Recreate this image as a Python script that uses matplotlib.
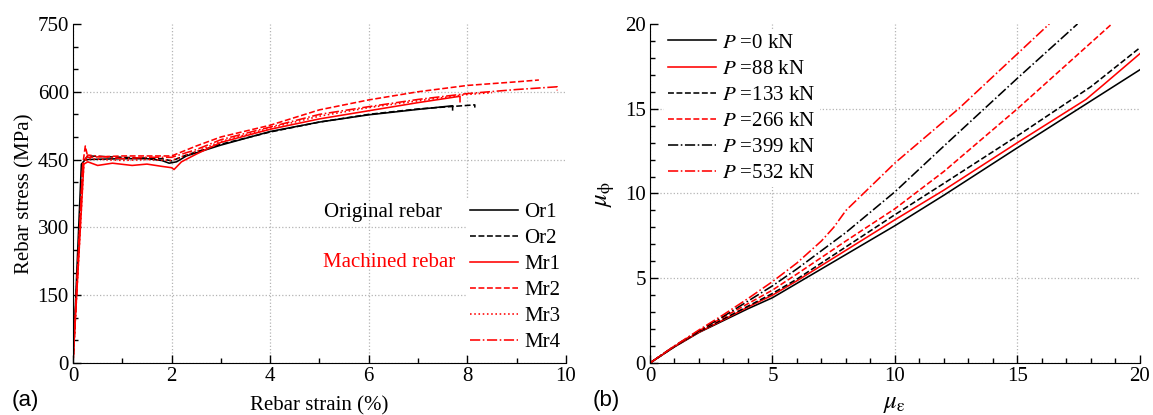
import numpy as np
import matplotlib
matplotlib.use("Agg")
from matplotlib import pyplot as plt

plt.rcParams['font.family'] = ['Liberation Serif', 'DejaVu Serif']
plt.rcParams['mathtext.fontset'] = 'stix'
plt.rcParams['font.size'] = 15

# (a) rebar stress-strain curves: strain (%) and stress (MPa)
or1_x = [0, 0.17, 0.25, 1.0, 1.5, 1.8, 1.95, 2.1, 2.3, 3, 4, 5, 6, 7, 7.7, 7.7]
or1_y = [0, 440, 450, 452, 452, 448, 442, 445, 458, 482, 512, 533, 549, 561, 569, 560]
or2_x = [0, 0.2, 0.3, 1.0, 1.8, 2.0, 2.3, 3, 4, 5, 6, 7, 8.15, 8.15]
or2_y = [0, 445, 458, 455, 452, 447, 460, 484, 511, 533, 550, 562, 571, 565]
mr1_x = [0, 0.22, 0.3, 0.5, 0.8, 1.2, 1.5, 1.8, 2.0, 2.05, 2.2, 2.5, 3, 4, 5, 6, 7, 7.85, 7.85]
mr1_y = [0, 440, 445, 437, 442, 437, 440, 435, 432, 428, 445, 462, 488, 517, 540, 558, 576, 590, 578]
mr2_x = [0, 0.2, 0.25, 0.3, 1.0, 1.5, 2.0, 2.5, 3, 4, 5, 6, 7, 8, 9, 9.45]
mr2_y = [0, 440, 480, 455, 458, 458, 458, 480, 500, 526, 560, 582, 600, 614, 622, 626]
mr3_x = [0, 0.22, 0.3, 1.0, 1.5, 2.0, 2.5, 3, 4, 5, 6, 7, 8, 8.5]
mr3_y = [0, 440, 452, 448, 450, 448, 468, 490, 520, 546, 565, 580, 594, 598]
mr4_x = [0, 0.2, 0.3, 1.0, 1.5, 2.0, 2.5, 3, 4, 5, 6, 7, 8, 9, 9.82, 9.82]
mr4_y = [0, 440, 460, 452, 455, 455, 472, 494, 522, 550, 567, 583, 596, 605, 611, 603]

# (b) curvature ductility vs strain ductility for axial loads P (kN)
loads = ['0', '88', '133', '266', '399', '532']
b_x = [
    [0, 1, 2, 3, 4, 5, 6, 8, 10, 12, 15, 17.5, 20],
    [0, 1, 2, 3, 4, 5, 6, 8, 10, 12, 15, 17.8, 18.5, 20],
    [0, 1, 2, 3, 4, 5, 6, 8, 10, 12, 15, 18, 20],
    [0, 1, 2, 3, 4, 5, 6, 8, 10, 12, 15, 18.85],
    [0, 1, 2, 3, 4, 5, 6, 8, 10, 12, 15, 17.45],
    [0, 1, 2, 3, 4, 5, 6, 7, 7.5, 8, 9, 10, 12.6, 16.3],
]
b_y = [
    [0, 0.95, 1.8, 2.5, 3.2, 3.85, 4.7, 6.4, 8.1, 9.9, 12.7, 15.0, 17.3],
    [0, 0.97, 1.82, 2.55, 3.3, 4.0, 4.85, 6.65, 8.45, 10.2, 13.0, 15.55, 16.4, 18.25],
    [0, 0.97, 1.85, 2.6, 3.35, 4.1, 4.95, 6.85, 8.75, 10.6, 13.4, 16.3, 18.6],
    [0, 1.0, 1.9, 2.7, 3.5, 4.3, 5.25, 7.2, 9.1, 11.3, 15.0, 20],
    [0, 1.0, 1.9, 2.75, 3.65, 4.55, 5.55, 7.7, 10.1, 12.8, 16.8, 20],
    [0, 1.0, 1.95, 2.85, 3.8, 4.8, 5.9, 7.2, 8.0, 9.0, 10.4, 11.8, 15.0, 20],
]
b_colors = ['black', 'red', 'black', 'red', 'black', 'red']
b_styles = ['-', '-', '--', '--', '-.', '-.']

fig = plt.figure(figsize=(11.53, 4.15), dpi=100)
ax1 = fig.add_axes([0.0633, 0.1253, 0.4276, 0.817])
ax2 = fig.add_axes([0.5637, 0.1253, 0.425, 0.817])

lw = 1.15
ax1.plot(or1_x, or1_y, color='black', ls='-', lw=lw, label='Or1')
ax1.plot(or2_x, or2_y, color='black', ls='--', lw=lw, label='Or2')
ax1.plot(mr1_x, mr1_y, color='red', ls='-', lw=lw, label='Mr1')
ax1.plot(mr2_x, mr2_y, color='red', ls='--', lw=lw, label='Mr2')
ax1.plot(mr3_x, mr3_y, color='red', ls=':', lw=lw, label='Mr3')
ax1.plot(mr4_x, mr4_y, color='red', ls='-.', lw=lw, label='Mr4')

for xs, ys, c, s, p in zip(b_x, b_y, b_colors, b_styles, loads):
    ax2.plot(xs, ys, color=c, ls=s, lw=lw, label=r'$P$ =' + p + ' kN')

ax1.set_xlim(0, 10)
ax1.set_ylim(0, 750)
ax1.set_xticks(np.arange(0, 11, 2))
ax1.set_yticks(np.arange(0, 751, 150))
ax1.set_xticks(np.arange(1, 10, 2), minor=True)
ax1.set_yticks(np.arange(50, 750, 50), minor=True)
ax1.set_xlabel('Rebar strain (%)', labelpad=7)
ax1.set_ylabel('Rebar stress (MPa)', labelpad=2)

ax2.set_xlim(0, 20)
ax2.set_ylim(0, 20)
ax2.set_xticks(np.arange(0, 21, 5))
ax2.set_yticks(np.arange(0, 21, 5))
ax2.set_xticks(np.arange(0, 21, 1), minor=True)
ax2.set_yticks(np.arange(0, 21, 1), minor=True)
ax2.set_xlabel(r'$\mu_{\mathrm{\varepsilon}}$', fontsize=18, labelpad=5)
ax2.set_ylabel(r'$\mu_{\mathrm{\phi}}$', fontsize=18, labelpad=6)

for ax in (ax1, ax2):
    ax.spines['top'].set_visible(False)
    ax.spines['right'].set_visible(False)
    ax.tick_params(which='major', direction='in', length=6, width=1, labelsize=15, pad=3)
    ax.tick_params(which='minor', direction='in', length=3.5, width=1)
    ax.grid(True, which='major', color='#b4b4b4', ls=':', lw=0.9)
    ax.get_xgridlines()[-1].set_visible(False)
    ax.get_ygridlines()[-1].set_visible(False)
    ax.set_axisbelow(True)

ax1.legend(loc='lower right', bbox_to_anchor=(0.997, 0.02), frameon=True,
           edgecolor='none', facecolor='white', framealpha=1,
           handlelength=2.3, handletextpad=0.3, labelspacing=0.31,
           borderpad=0.2, borderaxespad=0, fontsize=15)
ax1.text(0.509, 0.445, 'Original rebar', transform=ax1.transAxes, ha='left',
         va='center', fontsize=15, color='black')
ax1.text(0.507, 0.295, 'Machined rebar', transform=ax1.transAxes, ha='left',
         va='center', fontsize=15, color='red')

ax2.legend(loc='upper left', bbox_to_anchor=(0.029, 0.985), frameon=True,
           edgecolor='none', facecolor='white', framealpha=1,
           handlelength=2.3, handletextpad=0.3, labelspacing=0.31,
           borderpad=0.2, borderaxespad=0, fontsize=15)

fig.text(0.010, 0.022, '(a)', family='Liberation Sans', fontsize=16)
fig.text(0.514, 0.022, '(b)', family='Liberation Sans', fontsize=16)

fig.savefig('out.png', dpi=100)
